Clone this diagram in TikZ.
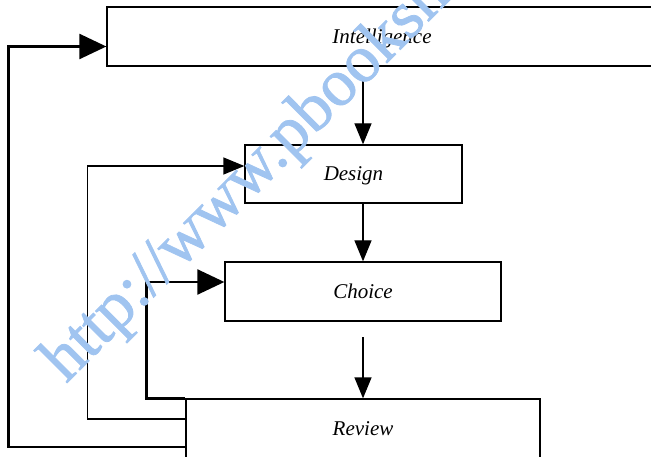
\documentclass[tikz,border=0pt]{standalone}
\usepackage{fontspec}
\setmainfont{Liberation Serif}
\newfontfamily\markfont{Liberation Serif}[FakeBold=1.2]
\usetikzlibrary{arrows.meta}

\begin{document}
\begin{tikzpicture}[x=1pt,y=-1pt,
        stage/.style={draw,line width=1.3pt,minimum height=59pt,inner sep=0pt,
            text height=14pt,text depth=0pt,font=\fontsize{21}{25}\selectfont\itshape},
        flow/.style={line width=1.3pt,-{Triangle[length=21pt,width=17pt]}},
        back/.style={line width=2.4pt,-{Triangle[length=27pt,width=25pt]}},
        watermark/.style={text=markblue,font=\markfont\fontsize{67}{72}\selectfont,inner sep=0pt}]
    \definecolor{markblue}{RGB}{160,196,240}
    \useasboundingbox (0,0) rectangle (651,457);
    \clip (0,0) rectangle (651,457);

    \node [stage,minimum width=550pt] (intel) at (382,36.5) {Intelligence};
    \node [stage,minimum width=217pt,minimum height=58pt] (design) at (353.5,174) {Design};
    \node [stage,minimum width=276pt] (choice) at (363,291.5) {Choice};
    \node [stage,minimum width=354pt] (review) at (363,428.5) {Review};

    % forward steps
    \coordinate (i1) at (363,80);
    \coordinate (c1) at (363,337);
    \draw [flow] (i1) -- (i1 |- design.north);
    \draw [flow] (design.south -| choice.north) -- (choice.north);
    \draw [flow] (c1) -- (review.north);

    % feedback from review
    \draw [back] ([yshift=-18.5pt]review.west) -- ++(-177,0) |- ([yshift=-10pt]intel.west);
    \draw [flow] ([yshift=9.5pt]review.west) -- ++(-98,0) |- ([yshift=8pt]design.west);
    \draw [back] (review.north west) -- ++(-39,0) |- ([yshift=9.5pt]choice.west);

    \node [watermark,anchor=base west,rotate=45] (wm) at (66,384) {http://www.pbookshop.com};
\end{tikzpicture}
\end{document}
